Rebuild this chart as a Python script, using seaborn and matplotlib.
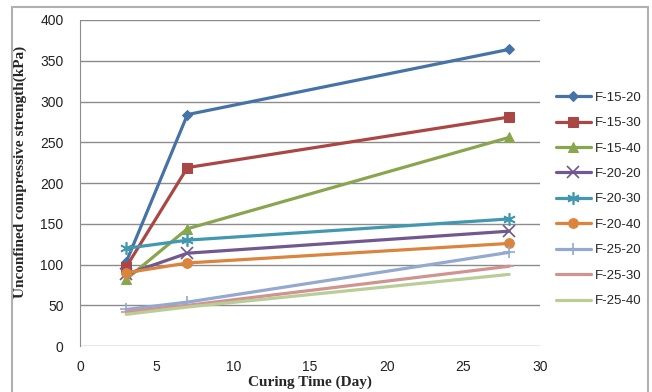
import pandas as pd
import matplotlib.pyplot as plt
import seaborn as sns
from matplotlib.patches import Rectangle

# ------------------ DATA ------------------ #
days = [3, 7, 28]

mixes = ["F-15-20", "F-15-30", "F-15-40",
         "F-20-20", "F-20-30", "F-20-40",
         "F-25-20", "F-25-30", "F-25-40"]

f15_20 = [103, 284, 364]
f15_30 = [97, 219, 281]
f15_40 = [82, 144, 256]
f20_20 = [88, 114, 141]
f20_30 = [120, 130, 156]
f20_40 = [90, 102, 126]
f25_20 = [45, 54, 115]
f25_30 = [42, 50, 98]
f25_40 = [39, 48, 88]

strengths = [f15_20, f15_30, f15_40, f20_20, f20_30, f20_40, f25_20, f25_30, f25_40]

colors = ["#4572A7", "#AA4643", "#89A54E", "#71588F", "#4198AF",
          "#DB843D", "#93A9CF", "#D19392", "#B9CD96"]
markers = ["D", "s", "^", "x", (6, 2, 0), "o", "+", "_", None]
msizes = [5.5, 7, 7, 8, 9, 7, 9, 7, 0]

rows = []
for m, vals in zip(mixes, strengths):
    for d, v in zip(days, vals):
        rows.append({"Mix": m, "Day": d, "Strength": v})
df = pd.DataFrame(rows)

# ------------------ PLOT ------------------ #
sns.set_style("white")
plt.rcParams['font.family'] = ['Liberation Sans', 'DejaVu Sans']

fig = plt.figure(figsize=(6.52, 3.92), dpi=100)
ax = fig.add_axes([0.123, 0.117, 0.705, 0.832])

for m, c, mk, ms in zip(mixes, colors, markers, msizes):
    sub = df[df["Mix"] == m]
    kw = dict(marker=mk, markersize=ms) if mk is not None else {}
    if mk in ("x", "+", "_", (6, 2, 0)):
        kw["markeredgewidth"] = 1.2
    sns.lineplot(data=sub, x="Day", y="Strength", color=c, linewidth=2.3,
                 label=m, ax=ax, markeredgecolor=c, markerfacecolor=c, **kw)

ax.set_xlim(0, 30)
ax.set_ylim(0, 400)
ax.set_xticks(range(0, 31, 5))
ax.set_yticks(range(0, 401, 50))
ax.tick_params(axis="both", length=0, labelsize=10, colors="#222222")
ax.tick_params(axis="y", pad=12)
ax.tick_params(axis="x", pad=10)
ax.grid(axis="y", color="#8c8c8c", linewidth=1.0)
ax.grid(axis="x", visible=False)
for s in ["top", "right", "bottom"]:
    ax.spines[s].set_visible(False)
ax.spines["left"].set_color("#8c8c8c")
ax.set_axisbelow(True)

ax.set_xlabel("Curing Time (Day)", family="Liberation Serif", fontweight="bold",
              fontsize=11)
ax.set_ylabel("Unconfined compressive strength(kPa)", family="Liberation Serif",
              fontweight="bold", fontsize=11)
ax.xaxis.set_label_coords(0.5, -0.09)
ax.yaxis.set_label_coords(-0.115, 0.535)

ax.legend(loc="center left", bbox_to_anchor=(1.01, 0.45), frameon=False,
          fontsize=9.5, handlelength=2.6, labelspacing=1.0, handletextpad=0.3)

# outer chart border
fig.patches.append(Rectangle((12 / 652, -0.05), 636 / 652, 1.05 - 7 / 392,
                             transform=fig.transFigure, fill=False,
                             edgecolor="#b0b0b0", linewidth=1.5))

plt.savefig("out.png", dpi=100)
